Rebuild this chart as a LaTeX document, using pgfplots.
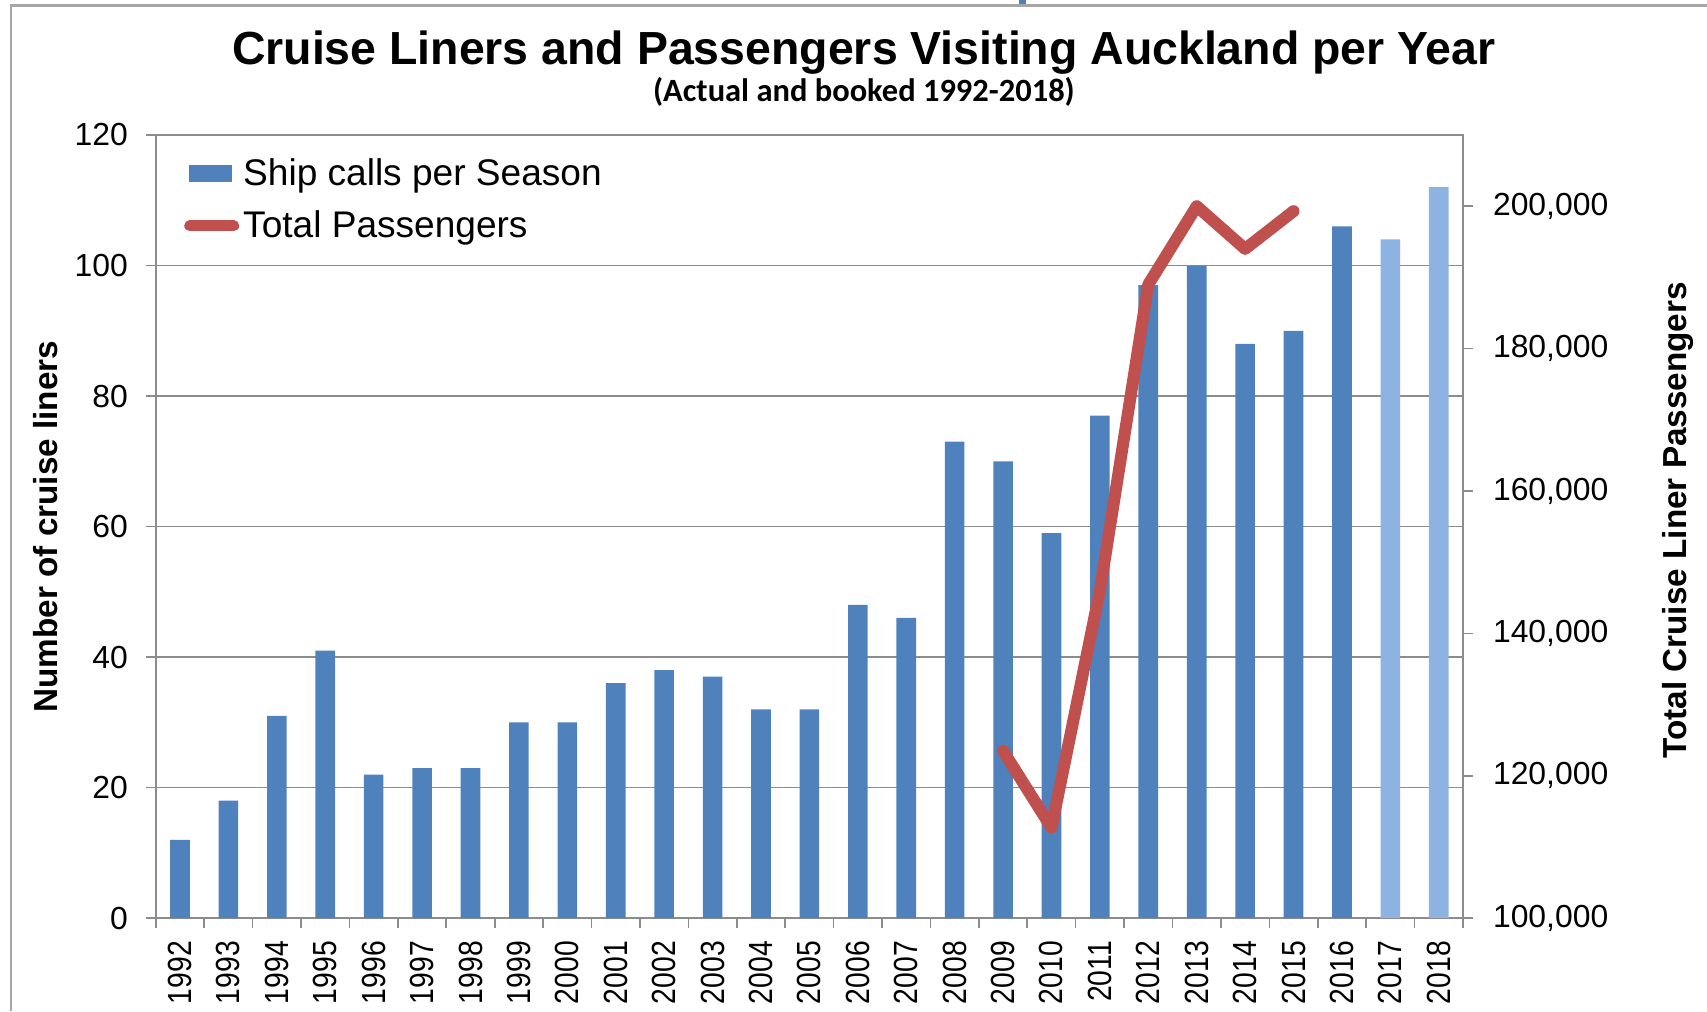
\documentclass[border=0pt]{standalone}
\usepackage{pgfplots}
\pgfplotsset{compat=1.18}
\usepackage{fontspec}
\setmainfont{Liberation Sans}
\newfontfamily\carlito{Carlito}
\newfontfamily\condfont[FakeStretch=0.845]{Liberation Sans}
\definecolor{barblue}{HTML}{4F81BD}
\definecolor{lightblue}{HTML}{8DB3E2}
\definecolor{linered}{HTML}{C0504D}
\definecolor{gridgray}{HTML}{8C8C8C}

\begin{document}
\begin{tikzpicture}
\path[use as bounding box] (-77.9bp,-46.5bp) rectangle (775.5bp,459bp);
\draw[gray!70, line width=1.2bp] (-72.4bp,-46.5bp) -- (-72.4bp,456.3bp) -- (775.5bp,456.3bp);
\fill[barblue] (431.5bp,456.9bp) rectangle (435bp,459bp);

\begin{axis}[
  at={(0,0)}, anchor=south west,
  scale only axis, width=653.5bp, height=391.5bp,
  xmin=-0.5, xmax=26.5, ymin=0, ymax=120,
  ytick={0,20,...,120},
  yticklabels={0,20,40,60,80,100,120},
  xtick={0,...,26},
  xticklabels={1992,1993,1994,1995,1996,1997,1998,1999,2000,2001,2002,2003,2004,2005,2006,2007,2008,2009,2010,2011,2012,2013,2014,2015,2016,2017,2018},
  minor xtick={-0.5,0.5,...,26.5},
  major x tick style={draw=none},
  minor x tick style={draw=gridgray, line width=0.8bp},
  minor tick length=5bp, major tick length=5bp,
  tick align=outside, tick pos=left,
  ytick style={draw=gridgray, line width=0.8bp},
  ymajorgrids, grid style={gridgray, line width=0.8bp},
  axis line style={gridgray, line width=0.8bp},
  xticklabel style={rotate=90, anchor=east, font=\condfont\fontsize{16.8}{18}\selectfont},
  xticklabel shift=3bp,
  yticklabel style={font=\fontsize{16}{19}\selectfont, xshift=-5.5bp},
  ylabel={\bfseries Number of cruise liners},
  ylabel style={font=\fontsize{16.7}{20}\selectfont, at={(rel axis cs:0,0.5)}, anchor=center, yshift=55bp},
  ybar, bar width=9.8bp,
]
\addplot[fill=barblue, draw=none, bar shift=0pt] coordinates {
(0,12) (1,18) (2,31) (3,41) (4,22) (5,23) (6,23) (7,30) (8,30) (9,36)
(10,38) (11,37) (12,32) (13,32) (14,48) (15,46) (16,73) (17,70) (18,59)
(19,77) (20,97) (21,100) (22,88) (23,90) (24,106)};
\addplot[fill=lightblue, draw=none, bar shift=0pt] coordinates {(25,104) (26,112)};
\end{axis}

\begin{axis}[
  at={(0,0)}, anchor=south west,
  scale only axis, width=653.5bp, height=391.5bp,
  xmin=-0.5, xmax=26.5, ymin=100000, ymax=210000,
  axis x line=none, axis y line*=right,
  scaled y ticks=false,
  ytick={100000,120000,140000,160000,180000,200000},
  yticklabels={{100,000},{120,000},{140,000},{160,000},{180,000},{200,000}},
  yticklabel style={font=\fontsize{16}{19}\selectfont, xshift=6.5bp},
  tick align=outside, major tick length=5bp,
  ytick style={draw=gridgray, line width=0.8bp},
  axis line style={gridgray, line width=0.8bp},
  ylabel={\bfseries Total Cruise Liner Passengers},
  ylabel style={font=\fontsize{16.7}{20}\selectfont, at={(rel axis cs:1,0.508)}, anchor=center, yshift=-107.3bp},
  legend style={draw=none, fill=none, at={(0,1)}, anchor=north west, xshift=14bp, yshift=-9.6bp,
    font=\fontsize{18.6}{22}\selectfont, row sep=7.3bp, inner sep=0pt},
  legend cell align=left,
]
\addlegendimage{legend image code/.code={\fill[barblue] (0bp,-4bp) rectangle (21bp,4bp);}}
\addlegendentry{Ship calls per Season}
\addplot[linered, line width=6bp, line cap=round, line join=round,
  legend image code/.code={\draw[linered, line width=5.5bp, line cap=round] (0bp,0bp) -- (22bp,0bp);}]
  coordinates {(17,123500) (18,112700) (19,146000) (20,189000) (21,200000) (22,194000) (23,199300)};
\addlegendentry{Total Passengers}
\end{axis}

\node[font=\bfseries\fontsize{23.3}{28}\selectfont, anchor=base] at (354bp,426.5bp) {Cruise Liners and Passengers Visiting Auckland per Year};
\node[font=\carlito\bfseries\fontsize{16.3}{19}\selectfont, anchor=base] at (354bp,408.4bp) {(Actual and booked 1992-2018)};
\end{tikzpicture}
\end{document}
